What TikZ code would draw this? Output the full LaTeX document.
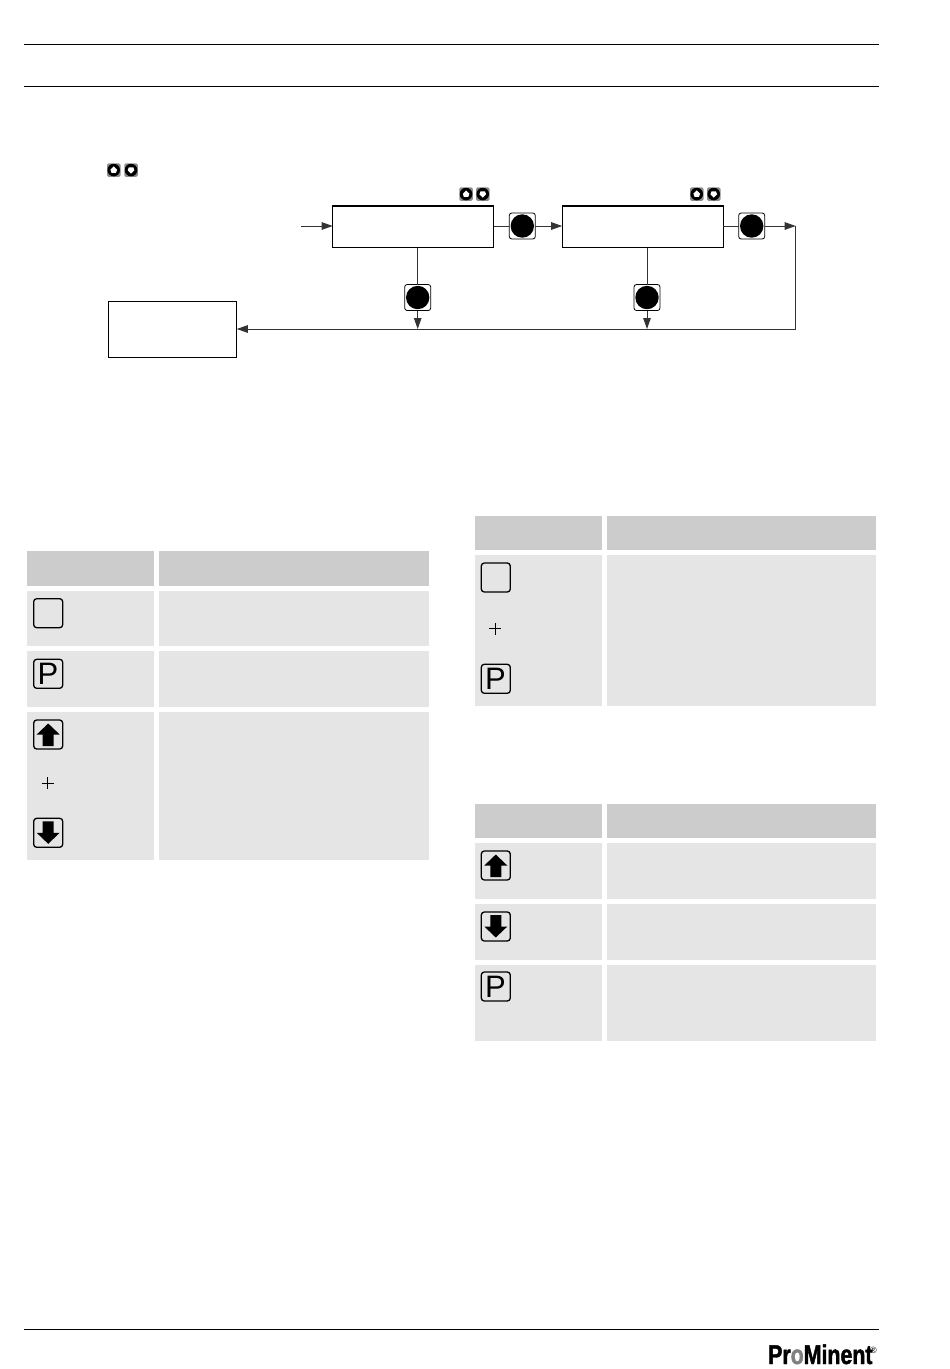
\documentclass[tikz,border=0pt]{standalone}
\usepackage{fontspec}
\setmainfont{Liberation Sans}
\newfontfamily\logofont[FakeStretch=0.79,FakeBold=1.6]{Liberation Sans Bold}
\usetikzlibrary{arrows.meta}
\definecolor{headgrey}{gray}{0.8}
\definecolor{rowgrey}{gray}{0.898}
\tikzset{
 x=1pt,y=-1pt,
 rule/.style={draw=black,line width=1pt},
 flowbox/.style={draw=black,line width=1.3pt,fill=white,rectangle,inner sep=0pt,outer sep=0pt},
 flow/.style={line width=1pt,draw=black!80},
 tip/.style={-{Triangle[length=11pt,width=7.5pt]}},
 bigkey/.style={draw=black,fill=white,line width=.8pt,rounded corners=2.5pt,minimum size=26pt,inner sep=0pt,outer sep=0pt,rectangle},
 tkey/.style={draw=black,line width=1.3pt,rounded corners=3pt},
}
\newcommand{\cellbox}[5]{\fill[#1] (#2,#3) rectangle (#4,#5);}
% small key: x y (top-left), rotation
\newcommand{\smallkey}[3]{%
 \begin{scope}[shift={(#1+6.75,#2+6.75)}]
  \fill[white!55!black,rounded corners=1.5pt] (-6.75,-6.75) rectangle (6.75,6.75);
  \fill[black] (0,0) circle (6.3);
  \fill[white,rotate=#3] (0,-3.6) -- (3.3,-.3) -- (2.2,2.8) -- (-2.2,2.8) -- (-3.3,-.3) -- cycle;
 \end{scope}}
% table key: x y (top-left)
\newcommand{\tablekey}[2]{\draw[tkey] (#1,#2) rectangle ++(29,29);}
\newcommand{\pkey}[2]{\tablekey{#1}{#2}\node[font=\fontsize{31}{31}\selectfont,inner sep=0pt] at (#1+14.2,#2+14.6) {P};}
\newcommand{\upkey}[2]{\tablekey{#1}{#2}\fill[black] (#1+14.5,#2+3.5) -- (#1+26,#2+14.5) -- (#1+20,#2+14.5) -- (#1+20,#2+26) -- (#1+9,#2+26) -- (#1+9,#2+14.5) -- (#1+3,#2+14.5) -- cycle;}
\newcommand{\downkey}[2]{\tablekey{#1}{#2}\fill[black] (#1+14.5,#2+25.5) -- (#1+26,#2+14.5) -- (#1+20,#2+14.5) -- (#1+20,#2+3) -- (#1+9,#2+3) -- (#1+9,#2+14.5) -- (#1+3,#2+14.5) -- cycle;}
\newcommand{\plusmark}[2]{\draw[line width=.7pt] (#1-6,#2) -- (#1+6,#2) (#1,#2-6) -- (#1,#2+6);}
\begin{document}
\begin{tikzpicture}
\useasboundingbox (0,0) rectangle (950,1369);
% page rules
\coordinate (r1a) at (24,44); \coordinate (r1b) at (879,44);
\coordinate (r2a) at (24,86); \coordinate (r2b) at (879,86);
\coordinate (r3a) at (24,1329); \coordinate (r3b) at (879,1329);
\draw[rule] (r1a) -- (r1b); \draw[rule] (r2a) -- (r2b); \draw[rule] (r3a) -- (r3b);
% flow boxes
\node[flowbox,minimum width=161pt,minimum height=41.5pt] (boxa) at (413.2,226.8) {};
\node[flowbox,minimum width=161pt,minimum height=41.5pt] (boxb) at (642.7,226.8) {};
\node[flowbox,minimum width=128.5pt,minimum height=56pt] (boxc) at (172.5,329.3) {};
% keys
\node[bigkey] (ka) at (522.3,226) {};
\node[bigkey] (kb) at (751.7,226) {};
\node[bigkey] (kc) at (417.7,297.5) {};
\node[bigkey] (kd) at (647,297.5) {};
\coordinate (start) at (301,226);
\coordinate (corner) at (795.7,226);
\coordinate (cornerb) at (795.7,329);
\coordinate (ja) at (417.7,329);
\coordinate (jb) at (647,329);
\draw[flow,tip] (start) -- (start -| boxa.west);
\draw[flow] (boxa.east |- ka) -- (ka.west);
\draw[flow,tip] (ka.east) -- (ka -| boxb.west);
\draw[flow] (boxb.east |- kb) -- (kb.west);
\draw[flow,tip] (kb.east) -- (corner);
\draw[flow] (corner) -- (cornerb);
\draw[flow,tip] (cornerb) -- (cornerb -| boxc.east);
\draw[flow] (kc |- boxa.south) -- (kc.north);
\draw[flow] (kd |- boxb.south) -- (kd.north);
\draw[flow,tip] (kc.south) -- (ja);
\draw[flow,tip] (kd.south) -- (jb);
\fill[black] (ka) circle (11.7) (kb) circle (11.7) (kc) circle (11.7) (kd) circle (11.7);
% small keys
\smallkey{107}{163.3}{0}\smallkey{124.3}{163.3}{180}
\smallkey{459.3}{187.3}{0}\smallkey{476}{187.3}{180}
\smallkey{690}{187.3}{0}\smallkey{707}{187.3}{180}
% left table
\cellbox{headgrey}{27}{551}{154}{586}\cellbox{headgrey}{159}{551}{429}{586}
\cellbox{rowgrey}{27}{591}{154}{646}\cellbox{rowgrey}{159}{591}{429}{646}
\cellbox{rowgrey}{27}{651}{154}{707}\cellbox{rowgrey}{159}{651}{429}{707}
\cellbox{rowgrey}{27}{712}{154}{860}\cellbox{rowgrey}{159}{712}{429}{860}
\tablekey{33.7}{598.7}
\pkey{33.7}{659.3}
\upkey{33.7}{720}
\plusmark{47.7}{783.3}
\downkey{33.7}{818.3}
% right table 1
\cellbox{headgrey}{475}{516}{602}{550}\cellbox{headgrey}{607}{516}{876}{550}
\cellbox{rowgrey}{475}{555}{602}{706}\cellbox{rowgrey}{607}{555}{876}{706}
\tablekey{481.3}{563}
\plusmark{495}{628.7}
\pkey{481.3}{664.3}
% right table 2
\cellbox{headgrey}{475}{804}{602}{838}\cellbox{headgrey}{607}{804}{876}{838}
\cellbox{rowgrey}{475}{843}{602}{899}\cellbox{rowgrey}{607}{843}{876}{899}
\cellbox{rowgrey}{475}{904}{602}{960}\cellbox{rowgrey}{607}{904}{876}{960}
\cellbox{rowgrey}{475}{965}{602}{1041}\cellbox{rowgrey}{607}{965}{876}{1041}
\upkey{481.3}{851}
\downkey{481.3}{912}
\pkey{481.3}{972}
% logo
\node[anchor=base west,inner sep=0pt,font=\logofont\fontsize{27}{27}\selectfont] (logo) at (768,1364) {Pr\textcolor{black!50}{o}Minent};
\node[anchor=base west,inner sep=0pt,font=\fontsize{9}{9}\selectfont] (reg) at (870,1353) {®};
\end{tikzpicture}
\end{document}
